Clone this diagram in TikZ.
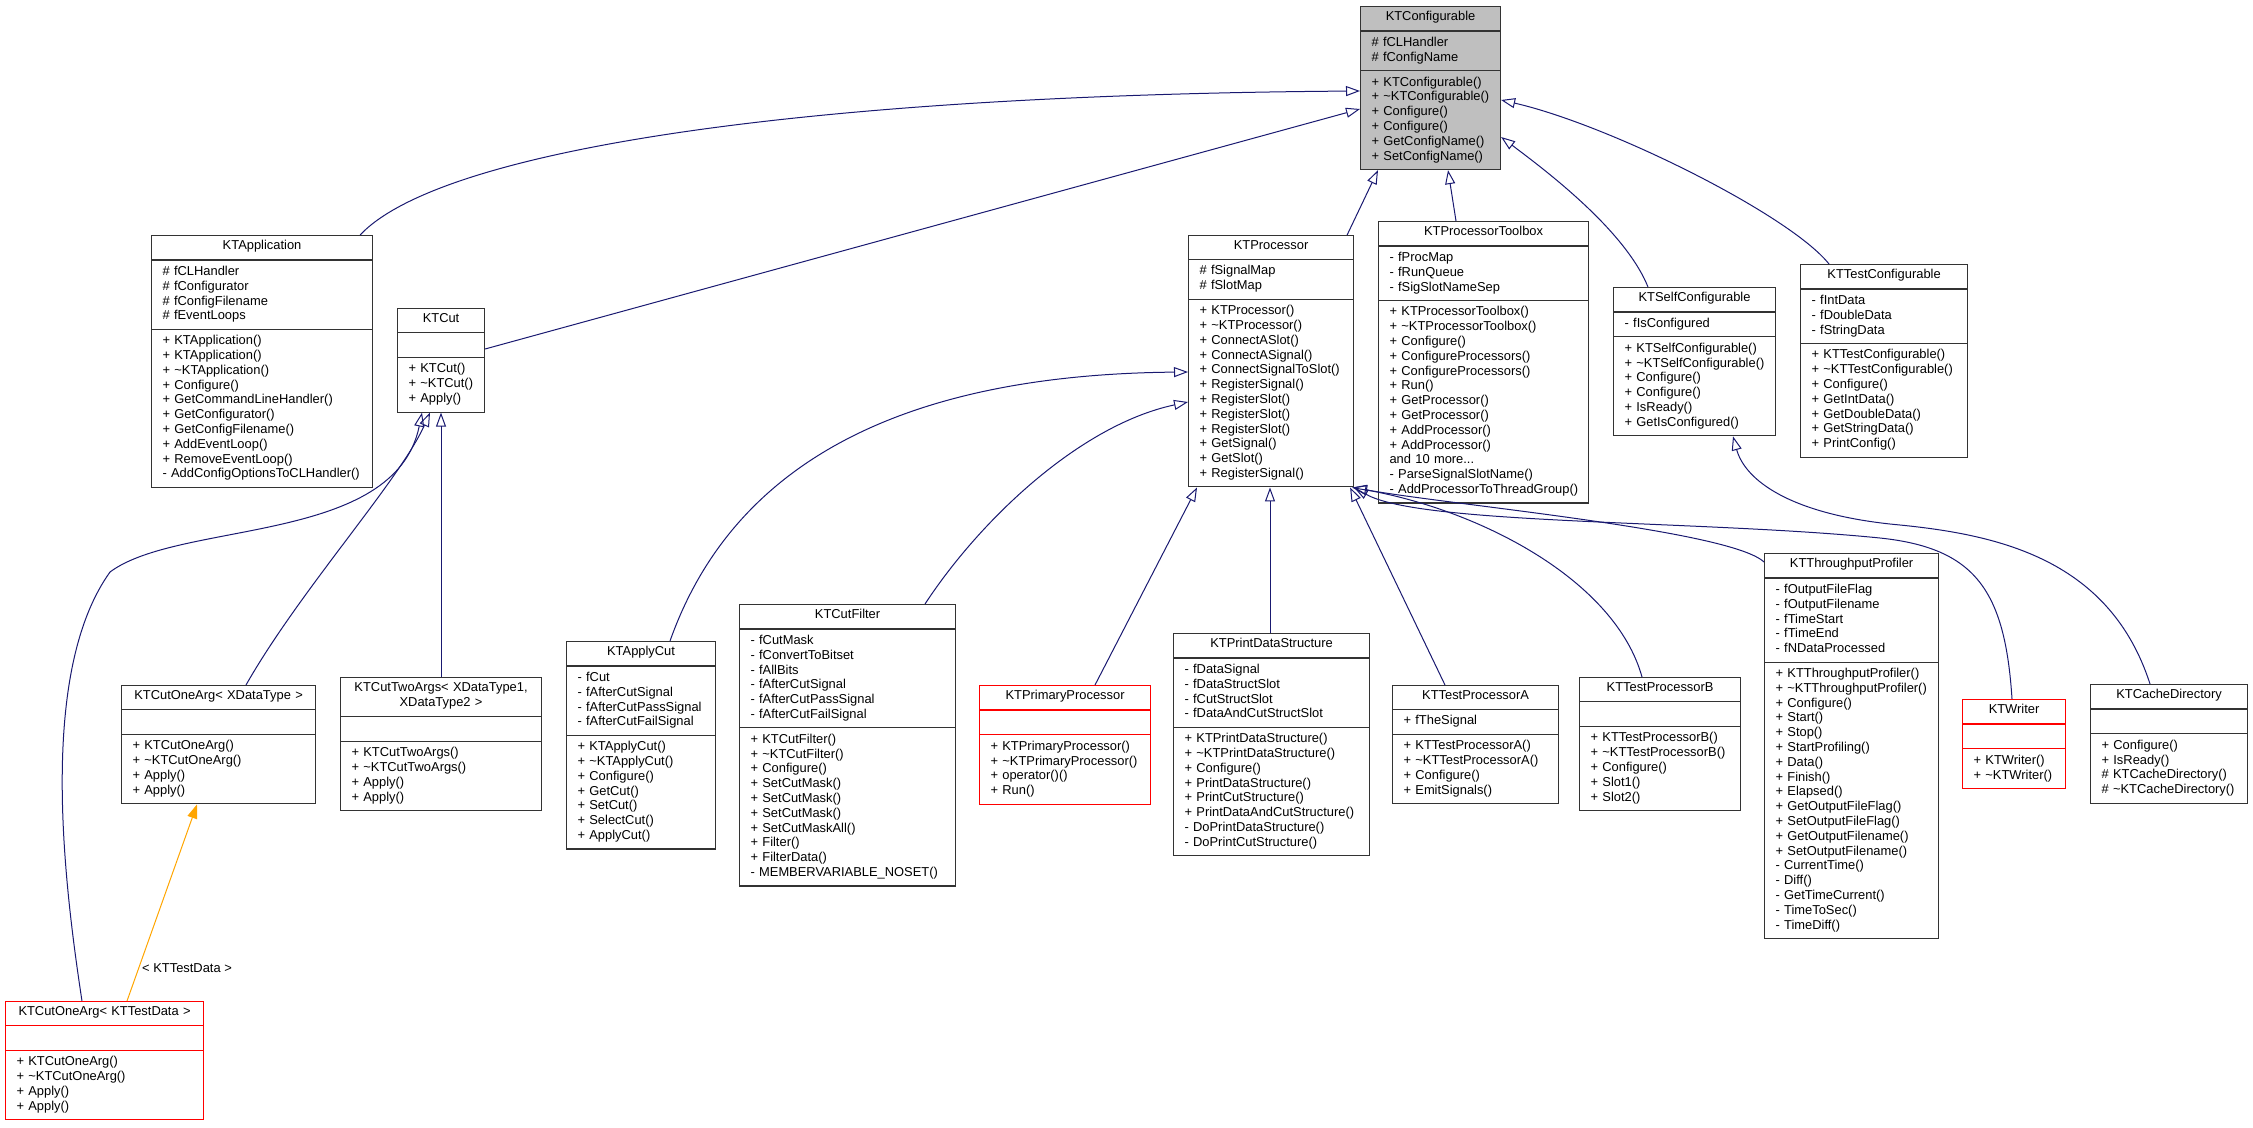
\documentclass[tikz,border=0pt]{standalone}
\usepackage{fontspec}
\setmainfont{Liberation Sans}
\usetikzlibrary{shapes.multipart, arrows.meta, calc}

\definecolor{navyblue}{RGB}{25,25,112}
\definecolor{basegray}{RGB}{191,191,191}
\definecolor{tmplorange}{RGB}{255,165,0}

% taller strut for the class name row, centred title line
\newcommand{\hs}{\rule[-5pt]{0pt}{12pt}}
\newcommand{\ttl}[1]{\makebox[\linewidth]{\hs #1}}
\hyphenpenalty=10000
\exhyphenpenalty=10000

\begin{document}
\begin{tikzpicture}[
    x=1pt, y=-1pt,
    cls/.style={
        rectangle split, rectangle split parts=3, anchor=north west,
        draw=black!80, fill=white, line width=1.1pt,
        inner xsep=11pt, inner ysep=4.5pt, align=left,
        font=\fontsize{12.9}{14.8}\selectfont
    },
    basecls/.style={cls, fill=basegray},
    redcls/.style={cls, draw=red},
    inhline/.style={draw=navyblue, line width=1pt,
        -{Triangle[open, length=14pt, width=10pt]}},
    tmplline/.style={draw=tmplorange, line width=1pt,
        -{Triangle[length=14pt, width=10pt]}},
    tlbl/.style={font=\fontsize{12.9}{14.8}\selectfont, anchor=west, inner sep=0pt},
]

\useasboundingbox (0,0) rectangle (2253,1127);

% ====== BASE CLASS ======
\node[basecls, text width=118pt] (kconf) at (1360,6)
    {\ttl{KTConfigurable}
     \nodepart{two}\strut\#~fCLHandler\\\#~fConfigName\strut
     \nodepart{three}\strut+~KTConfigurable()\\+~\textasciitilde KTConfigurable()\\+~Configure()\\+~Configure()\\+~GetConfigName()\\+~SetConfigName()\strut};

% ====== SECOND ROW ======
\node[cls, text width=199pt] (kapp) at (151,235)
    {\ttl{KTApplication}
     \nodepart{two}\strut\#~fCLHandler\\\#~fConfigurator\\\#~fConfigFilename\\\#~fEventLoops\strut
     \nodepart{three}\strut+~KTApplication()\\+~KTApplication()\\+~\textasciitilde KTApplication()\\+~Configure()\\+~GetCommandLineHandler()\\+~GetConfigurator()\\+~GetConfigFilename()\\+~AddEventLoop()\\+~RemoveEventLoop()\\-~AddConfigOptionsToCLHandler()\strut};

\node[cls, text width=65pt] (kcut) at (397,308)
    {\ttl{KTCut}
     \nodepart{two}\strut
     \nodepart{three}\strut+~KTCut()\\+~\textasciitilde KTCut()\\+~Apply()\strut};

\node[cls, text width=143pt] (kproc) at (1188,235)
    {\ttl{KTProcessor}
     \nodepart{two}\strut\#~fSignalMap\\\#~fSlotMap\strut
     \nodepart{three}\strut+~KTProcessor()\\+~\textasciitilde KTProcessor()\\+~ConnectASlot()\\+~ConnectASignal()\\+~ConnectSignalToSlot()\\+~RegisterSignal()\\+~RegisterSlot()\\+~RegisterSlot()\\+~RegisterSlot()\\+~GetSignal()\\+~GetSlot()\\+~RegisterSignal()\strut};

\node[cls, text width=188pt] (ktoolbox) at (1378,221)
    {\ttl{KTProcessorToolbox}
     \nodepart{two}\strut-~fProcMap\\-~fRunQueue\\-~fSigSlotNameSep\strut
     \nodepart{three}\strut+~KTProcessorToolbox()\\+~\textasciitilde KTProcessorToolbox()\\+~Configure()\\+~ConfigureProcessors()\\+~ConfigureProcessors()\\+~Run()\\+~GetProcessor()\\+~GetProcessor()\\+~AddProcessor()\\+~AddProcessor()\\and~10~more...\\-~ParseSignalSlotName()\\-~AddProcessorToThreadGroup()\strut};

\node[cls, text width=140pt] (kselfconf) at (1613,287)
    {\ttl{KTSelfConfigurable}
     \nodepart{two}\strut-~fIsConfigured\strut
     \nodepart{three}\strut+~KTSelfConfigurable()\\+~\textasciitilde KTSelfConfigurable()\\+~Configure()\\+~Configure()\\+~IsReady()\\+~GetIsConfigured()\strut};

\node[cls, text width=145pt] (ktestconf) at (1800,264)
    {\ttl{KTTestConfigurable}
     \nodepart{two}\strut-~fIntData\\-~fDoubleData\\-~fStringData\strut
     \nodepart{three}\strut+~KTTestConfigurable()\\+~\textasciitilde KTTestConfigurable()\\+~Configure()\\+~GetIntData()\\+~GetDoubleData()\\+~GetStringData()\\+~PrintConfig()\strut};

% ====== THIRD ROW ======
\node[cls, text width=172pt] (kcutone) at (121,685)
    {\ttl{KTCutOneArg<~XDataType~>}
     \nodepart{two}\strut
     \nodepart{three}\strut+~KTCutOneArg()\\+~\textasciitilde KTCutOneArg()\\+~Apply()\\+~Apply()\strut};

\node[cls, text width=179pt] (kcuttwo) at (340,677)
    {\ttl{KTCutTwoArgs<~XDataType1,}\\\ttl{XDataType2~>}
     \nodepart{two}\strut
     \nodepart{three}\strut+~KTCutTwoArgs()\\+~\textasciitilde KTCutTwoArgs()\\+~Apply()\\+~Apply()\strut};

\node[cls, text width=127pt] (kapplycut) at (566,641)
    {\ttl{KTApplyCut}
     \nodepart{two}\strut-~fCut\\-~fAfterCutSignal\\-~fAfterCutPassSignal\\-~fAfterCutFailSignal\strut
     \nodepart{three}\strut+~KTApplyCut()\\+~\textasciitilde KTApplyCut()\\+~Configure()\\+~GetCut()\\+~SetCut()\\+~SelectCut()\\+~ApplyCut()\strut};

\node[cls, text width=194pt] (kcutfilter) at (739,604)
    {\ttl{KTCutFilter}
     \nodepart{two}\strut-~fCutMask\\-~fConvertToBitset\\-~fAllBits\\-~fAfterCutSignal\\-~fAfterCutPassSignal\\-~fAfterCutFailSignal\strut
     \nodepart{three}\strut+~KTCutFilter()\\+~\textasciitilde KTCutFilter()\\+~Configure()\\+~SetCutMask()\\+~SetCutMask()\\+~SetCutMask()\\+~SetCutMaskAll()\\+~Filter()\\+~FilterData()\\-~MEMBERVARIABLE\_NOSET()\strut};

\node[redcls, text width=149pt] (kprimary) at (979,685)
    {\ttl{KTPrimaryProcessor}
     \nodepart{two}\strut
     \nodepart{three}\strut+~KTPrimaryProcessor()\\+~\textasciitilde KTPrimaryProcessor()\\+~operator()()\\+~Run()\strut};

\node[cls, text width=174pt] (kprint) at (1173,633)
    {\ttl{KTPrintDataStructure}
     \nodepart{two}\strut-~fDataSignal\\-~fDataStructSlot\\-~fCutStructSlot\\-~fDataAndCutStructSlot\strut
     \nodepart{three}\strut+~KTPrintDataStructure()\\+~\textasciitilde KTPrintDataStructure()\\+~Configure()\\+~PrintDataStructure()\\+~PrintCutStructure()\\+~PrintDataAndCutStructure()\\-~DoPrintDataStructure()\\-~DoPrintCutStructure()\strut};

\node[cls, text width=144pt] (ktesta) at (1392,685)
    {\ttl{KTTestProcessorA}
     \nodepart{two}\strut+~fTheSignal\strut
     \nodepart{three}\strut+~KTTestProcessorA()\\+~\textasciitilde KTTestProcessorA()\\+~Configure()\\+~EmitSignals()\strut};

\node[cls, text width=139pt] (ktestb) at (1579,677)
    {\ttl{KTTestProcessorB}
     \nodepart{two}\strut
     \nodepart{three}\strut+~KTTestProcessorB()\\+~\textasciitilde KTTestProcessorB()\\+~Configure()\\+~Slot1()\\+~Slot2()\strut};

\node[cls, text width=152pt] (kthru) at (1764,553)
    {\ttl{KTThroughputProfiler}
     \nodepart{two}\strut-~fOutputFileFlag\\-~fOutputFilename\\-~fTimeStart\\-~fTimeEnd\\-~fNDataProcessed\strut
     \nodepart{three}\strut+~KTThroughputProfiler()\\+~\textasciitilde KTThroughputProfiler()\\+~Configure()\\+~Start()\\+~Stop()\\+~StartProfiling()\\+~Data()\\+~Finish()\\+~Elapsed()\\+~GetOutputFileFlag()\\+~SetOutputFileFlag()\\+~GetOutputFilename()\\+~SetOutputFilename()\\-~CurrentTime()\\-~Diff()\\-~GetTimeCurrent()\\-~TimeToSec()\\-~TimeDiff()\strut};

\node[redcls, text width=81pt] (kwriter) at (1962,699)
    {\ttl{KTWriter}
     \nodepart{two}\strut
     \nodepart{three}\strut+~KTWriter()\\+~\textasciitilde KTWriter()\strut};

\node[cls, text width=135pt] (kcache) at (2090,684)
    {\ttl{KTCacheDirectory}
     \nodepart{two}\strut
     \nodepart{three}\strut+~Configure()\\+~IsReady()\\\#~KTCacheDirectory()\\\#~\textasciitilde KTCacheDirectory()\strut};

% ====== TEMPLATE INSTANCE ======
\node[redcls, text width=176pt] (kcutonetest) at (5,1001)
    {\ttl{KTCutOneArg<~KTTestData~>}
     \nodepart{two}\strut
     \nodepart{three}\strut+~KTCutOneArg()\\+~\textasciitilde KTCutOneArg()\\+~Apply()\\+~Apply()\strut};

\node[tlbl] (ltestdata) at (142,968) {<~KTTestData~>};

% ====== INHERITANCE: KTConfigurable ======
\draw[inhline] ($(kapp.north east)+(-13,0)$) .. controls (440,150) and (800,95) .. ($(kconf.north west)+(0,85)$);
\draw[inhline] ($(kcut.north east)+(0,41)$) -- ($(kconf.north west)+(0,103)$);
\draw[inhline] ($(kproc.north east)+(-7,0)$) -- ($(kconf.south west)+(18,0)$);
\draw[inhline] ($(ktoolbox.north west)+(78,0)$) -- ($(kconf.south west)+(88,0)$);
\draw[inhline] ($(kselfconf.north west)+(35,0)$) .. controls (1625,230) and (1545,170) .. ($(kconf.north east)+(0,131)$);
\draw[inhline] ($(ktestconf.north west)+(29,0)$) .. controls (1790,215) and (1610,125) .. ($(kconf.north east)+(0,94)$);

% ====== INHERITANCE: KTCut ======
\draw[inhline] ($(kcutone.north west)+(125,0)$) .. controls (300,590) and (400,480) .. ($(kcut.south west)+(33,0)$);
\draw[inhline] ($(kcuttwo.north west)+(101,0)$) -- ($(kcut.south west)+(44,0)$);
\draw[inhline] ($(kcutonetest.north west)+(77,0)$) .. controls (62,870) and (40,670) .. (110,572)
    .. controls (180,520) and (395,545) .. ($(kcut.south west)+(25,0)$);
\draw[tmplline] ($(kcutonetest.north west)+(122,0)$) -- ($(kcutone.south west)+(76,0)$);

% ====== INHERITANCE: KTProcessor ======
\draw[inhline] ($(kapplycut.north west)+(104,0)$) .. controls (720,500) and (850,375) .. ($(kproc.north west)+(0,137)$);
\draw[inhline] ($(kcutfilter.north west)+(186,0)$) .. controls (980,520) and (1080,425) .. ($(kproc.north west)+(0,167)$);
\draw[inhline] ($(kprimary.north west)+(116,0)$) -- ($(kproc.south west)+(9,0)$);
\draw[inhline] ($(kprint.north west)+(97,0)$) -- ($(kproc.south west)+(82,0)$);
\draw[inhline] ($(ktesta.north west)+(53,0)$) -- ($(kproc.south east)+(-4,0)$);
\draw[inhline] ($(ktestb.north west)+(63,0)$) .. controls (1615,580) and (1480,510) .. ($(kproc.south east)+(-2,0)$);
\draw[inhline] ($(kthru.north west)+(0,9)$) .. controls (1730,530) and (1450,505) .. ($(kproc.south east)+(-1,0)$);
\draw[inhline] ($(kwriter.north west)+(50,0)$) .. controls (2005,590) and (1975,548) .. (1880,538)
    .. controls (1700,520) and (1420,525) .. (kproc.south east);

% ====== INHERITANCE: KTSelfConfigurable ======
\draw[inhline] ($(kcache.north west)+(60,0)$) .. controls (2110,560) and (2000,535) .. (1900,525)
    .. controls (1790,515) and (1745,480) .. ($(kselfconf.south west)+(120,0)$);

\end{tikzpicture}
\end{document}
